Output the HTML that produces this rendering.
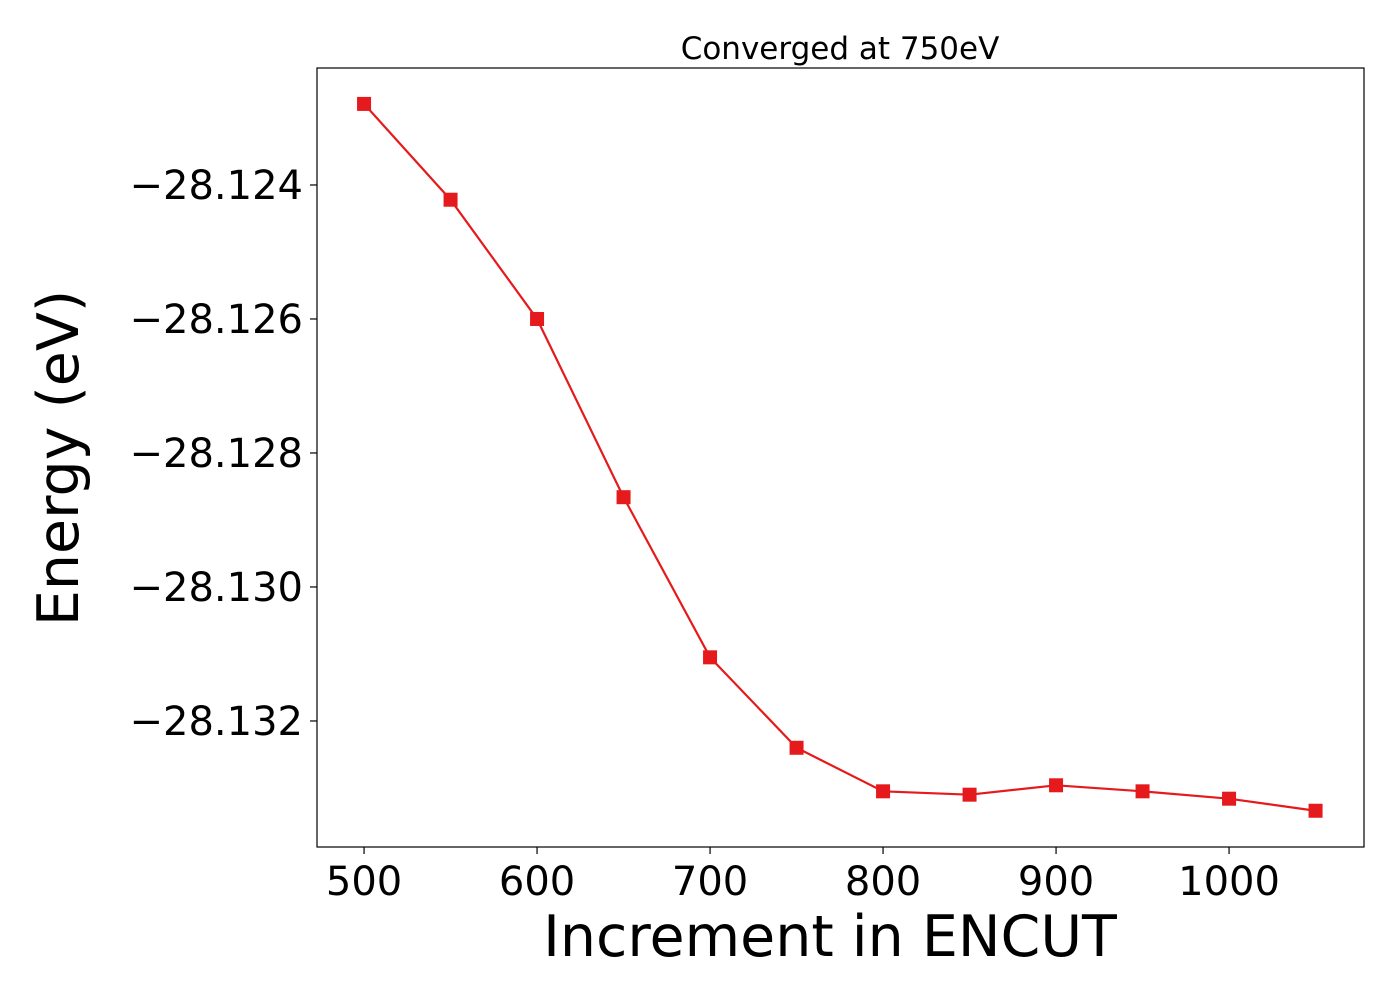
<!DOCTYPE html>
<html><head><meta charset="utf-8"><style>
body{margin:0;background:#fff;}
svg text{font-family:"DejaVu Sans","Liberation Sans",sans-serif;}
</style></head><body>
<svg id="chart" width="1400" height="1000" xmlns="http://www.w3.org/2000/svg">
<text x="840" y="59" font-size="31" text-anchor="middle">Converged at 750eV</text>
<rect x="317" y="68" width="1047" height="779" fill="none" stroke="#000" stroke-width="1.2"/>
<g id="xt"></g><g id="yt"></g><g id="series"></g>
<text x="830" y="956" font-size="57" text-anchor="middle">Increment in ENCUT</text>
<text transform="translate(78,458) rotate(-90)" font-size="57" text-anchor="middle">Energy (eV)</text>
</svg>
<script>
const encut=[500,550,600,650,700,750,800,850,900,950,1000,1050];
const energy=[-28.12279,-28.12422,-28.12600,-28.12866,-28.13105,-28.13240,-28.13305,-28.13310,-28.13296,-28.13305,-28.13316,-28.13334];
const xTicks=[500,600,700,800,900,1000];
const yTicks=[-28.124,-28.126,-28.128,-28.130,-28.132];
const L=317,R=1364,T=68,B=847,x0=472.8,x1=1078,y0=-28.133881,y1=-28.122254;
const X=v=>L+(v-x0)/(x1-x0)*(R-L);
const Y=v=>B-(v-y0)/(y1-y0)*(B-T);
const NS="http://www.w3.org/2000/svg";
function mk(t,a,p){const e=document.createElementNS(NS,t);for(const k in a)e.setAttribute(k,a[k]);p.appendChild(e);return e;}
const xt=document.getElementById('xt'),yt=document.getElementById('yt'),sg=document.getElementById('series');
xTicks.forEach(v=>{const x=X(v);
const l=mk('line',{x1:x,x2:x,y1:B,y2:B+7,stroke:'#000','stroke-width':1.2},xt);


const t=mk('text',{x:x,y:B+48,'font-size':40,'text-anchor':'middle'},xt);t.textContent=v;

});
yTicks.forEach(v=>{const y=Y(v);
const l=mk('line',{x1:L-7,x2:L,y1:y,y2:y,stroke:'#000','stroke-width':1.2},yt);


const t=mk('text',{x:L-14,y:y+14,'font-size':40,'text-anchor':'end'},yt);t.textContent='\u2212'+Math.abs(v).toFixed(3);

});
const pl=mk('polyline',{points:encut.map((v,i)=>X(v)+','+Y(energy[i])).join(' '),fill:'none',stroke:'#e41a1c','stroke-width':2.2},sg);


encut.forEach((v,i)=>{const r=mk('rect',{x:X(v)-7,y:Y(energy[i])-7,width:14,height:14,fill:'#e41a1c'},sg);

});
</script>
</body></html>
